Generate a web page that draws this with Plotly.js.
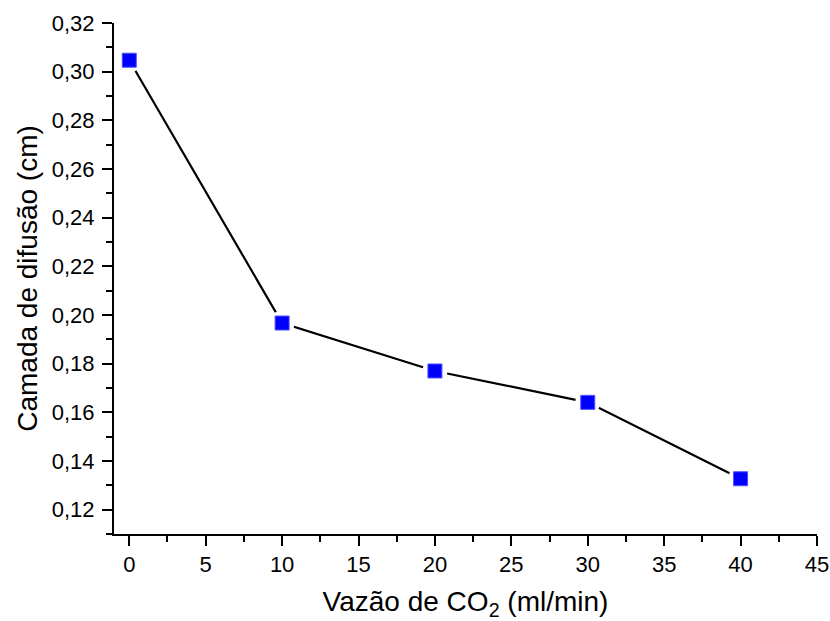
<!DOCTYPE html>
<html>
<head>
<meta charset="utf-8">
<script src="https://cdn.plot.ly/plotly-3.0.1.min.js"></script>
<style>html,body{margin:0;padding:0;background:#fff;}#chart{width:830px;height:621px;}</style>
</head>
<body>
<div id="chart"></div>
<script>
const flowCO2 = [0, 10, 20, 30, 40];
const diffusionLayer = [0.3047, 0.1967, 0.1770, 0.1641, 0.1327];
const xTitle = 'Vazão de CO<sub>2</sub> (ml/min)';
const yTitle = 'Camada de difusão (cm)';

const font = 'Liberation Sans, Arial, sans-serif';

const traces = [
  {x: flowCO2, y: diffusionLayer, mode: 'lines', line: {color: '#000', width: 2.2}, hoverinfo: 'skip', cliponaxis: false},
  {x: flowCO2, y: diffusionLayer, mode: 'markers', marker: {symbol: 'circle', size: 25, color: '#fff', line: {width: 0}}, hoverinfo: 'skip', cliponaxis: false},
  {x: flowCO2, y: diffusionLayer, mode: 'markers', marker: {symbol: 'square', size: 14, color: '#0000ff', line: {width: 1, color: '#5050ff'}}, cliponaxis: false}
];

const layout = {
  width: 830, height: 621,
  margin: {l: 114, r: 13, t: 23, b: 87},
  paper_bgcolor: '#fff', plot_bgcolor: '#fff',
  showlegend: false,
  separators: ',.',
  font: {family: font, color: '#000', size: 22},
  xaxis: {
    range: [-1, 45], showgrid: false, zeroline: false,
    showline: true, linecolor: '#000', linewidth: 2,
    ticks: 'outside', ticklen: 10, tickwidth: 2, tickcolor: '#000',
    tick0: 0, dtick: 5,
    minor: {ticks: 'outside', ticklen: 6, tickwidth: 2, tickcolor: '#000', dtick: 2.5, tick0: 0, showgrid: false},
    tickfont: {family: font, size: 22, color: '#000'},
    title: {text: xTitle, font: {family: font, size: 28, color: '#000'}, standoff: 16}
  },
  yaxis: {
    range: [0.11, 0.32], showgrid: false, zeroline: false,
    showline: true, linecolor: '#000', linewidth: 2,
    ticks: 'outside', ticklen: 10, tickwidth: 2, tickcolor: '#000',
    tick0: 0.12, dtick: 0.02, tickformat: '.2f', ticklabelstandoff: 3,
    minor: {ticks: 'outside', ticklen: 6, tickwidth: 2, tickcolor: '#000', dtick: 0.01, tick0: 0.11, showgrid: false},
    tickfont: {family: font, size: 22, color: '#000'},
    title: {text: yTitle, font: {family: font, size: 28, color: '#000'}, standoff: 6}
  }
};

Plotly.newPlot('chart', traces, layout, {displayModeBar: false, staticPlot: true});
</script>
</body>
</html>
